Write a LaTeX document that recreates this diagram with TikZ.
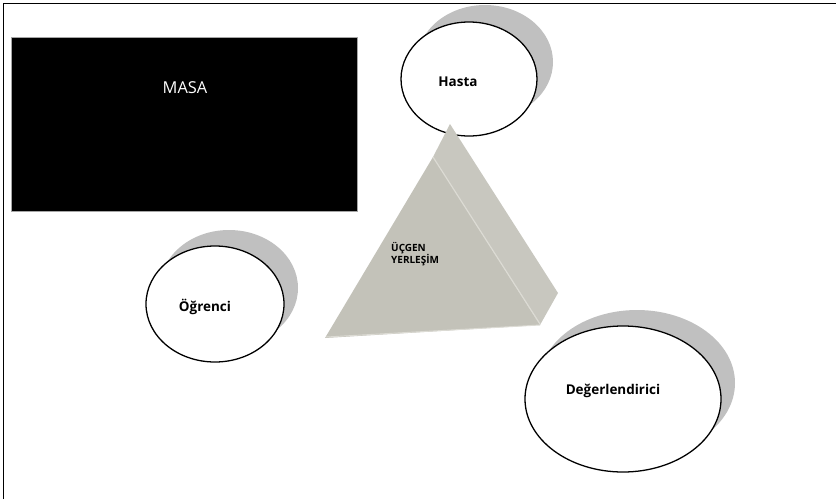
\documentclass[tikz,border=0pt]{standalone}
\usepackage{fontspec}
\setmainfont{Open Sans}
\usepackage{tikz}
\usetikzlibrary{positioning}
\definecolor{shadowgray}{HTML}{C0C0C0}
\definecolor{prismfront}{HTML}{C3C2B9}
\definecolor{prismside}{HTML}{C8C7BF}
\definecolor{prismedge}{HTML}{DCDBD4}
\tikzset{
  seat/.style={draw=black,line width=1.1pt,fill=white},
  seatshadow/.style={fill=shadowgray,draw=none},
  seatlabel/.style={font=\fontsize{11.5}{13}\selectfont\bfseries,inner sep=0pt}
}
\begin{document}
\begin{tikzpicture}[x=0.03cm,y=-0.03cm]
\useasboundingbox (0,0) rectangle (836,499);
%frame (only top and left edges show)
\draw[line width=1.6pt] (3.5,499) -- (3.5,3.5) -- (836,3.5);
%the table
\draw[fill=black,draw=gray!70,line width=.4pt] (11,37) rectangle (357,211);
\node[text=white,font=\fontsize{14}{16}\selectfont,inner sep=0pt] (masa) at (185,88) {MASA};
%Hasta
\fill[seatshadow] (485,62) ellipse (68 and 57);
\draw[seat] (469,79) ellipse (68 and 57);
\node[seatlabel] (hasta) at (458,82) {Hasta};
%triangle layout (prism)
\fill[prismside] (450,124) -- (558,293) -- (540,325) -- (433,157) -- cycle;
\fill[prismfront] (325,338) -- (433,157) -- (540,325) -- cycle;
\draw[prismedge,line width=1pt] (433,157) -- (540,324);
\draw[prismedge,line width=.8pt] (326,337) -- (540,325);
\node[font=\fontsize{8.5}{10.5}\selectfont\bfseries,align=left,anchor=north west,inner sep=0pt] (ucgen) at (391,242) {ÜÇGEN\\YERLEŞİM};
%Ogrenci
\fill[seatshadow] (229,288) ellipse (69 and 58);
\draw[seat] (215,304) ellipse (69 and 58);
\node[seatlabel] (ogrenci) at (205,307) {Öğrenci};
%Degerlendirici
\fill[seatshadow] (637,383) ellipse (98 and 73);
\draw[seat] (623,399) ellipse (98 and 73);
\node[seatlabel] (degerlendirici) at (613,391) {Değerlendirici};
\end{tikzpicture}
\end{document}
